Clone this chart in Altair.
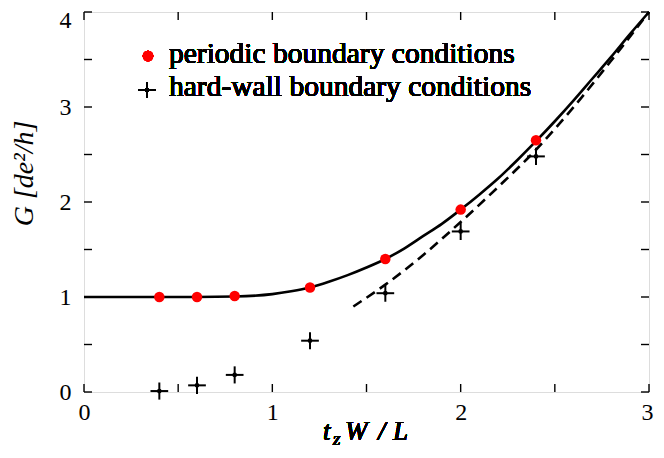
import altair as alt
import pandas as pd

# ---- data ----
periodic_x = [0.4, 0.6, 0.8, 1.2, 1.6, 2.0, 2.4]
periodic_g = [1.00, 1.00, 1.01, 1.10, 1.40, 1.92, 2.65]

hard_x = [0.4, 0.6, 0.8, 1.2, 1.6, 2.0, 2.4]
hard_g = [0.01, 0.07, 0.18, 0.54, 1.04, 1.69, 2.48]
hard_xerr = [0.047, 0.047, 0.047, 0.047, 0.047, 0.047, 0.047]
hard_gerr = [0.09, 0.09, 0.09, 0.09, 0.09, 0.09, 0.09]

solid_x = [0, 0.2, 0.4, 0.6, 0.8, 1.0, 1.1, 1.2, 1.3, 1.4, 1.5, 1.6, 1.7, 1.8,
           1.9, 2.0, 2.1, 2.2, 2.3, 2.4, 2.5, 2.6, 2.7, 2.8, 2.9, 3.0]
solid_g = [1.0, 1.0, 1.0, 1.0, 1.005, 1.03, 1.06, 1.10, 1.16, 1.23, 1.31, 1.40,
           1.51, 1.64, 1.77, 1.92, 2.08, 2.25, 2.44, 2.64, 2.85, 3.07, 3.30,
           3.53, 3.77, 4.0]

dashed_x = [1.43, 1.6, 1.8, 2.0, 2.2, 2.4, 2.6, 2.8, 3.0]
dashed_g = [0.90, 1.13, 1.44, 1.79, 2.16, 2.55, 3.00, 3.49, 4.0]

x_ticks = [0, 0.5, 1, 1.5, 2, 2.5, 3]
y_ticks = [0, 0.5, 1, 1.5, 2, 2.5, 3, 3.5, 4]
x_labels = [0, 1, 2, 3]
y_labels = [0, 1, 2, 3, 4]

legend_labels = ["periodic boundary conditions", "hard-wall boundary conditions"]
x_title_parts = ["t", "z", "W", "/", "L"]

W, H = 565, 380
FONT = "Liberation Serif"

xs = alt.Scale(domain=[0, 3], nice=False, zero=False)
ys = alt.Scale(domain=[0, 4], nice=False, zero=False)


def X(field, **kw):
    return alt.X(field, type="quantitative", scale=xs, **kw)


def Y(field, **kw):
    return alt.Y(field, type="quantitative", scale=ys, **kw)


periodic = pd.DataFrame({"x": periodic_x, "g": periodic_g})
hard = pd.DataFrame({"x": hard_x, "g": hard_g, "xerr": hard_xerr, "gerr": hard_gerr})
hard["x0"] = hard["x"] - hard["xerr"]
hard["x1"] = hard["x"] + hard["xerr"]
hard["g0"] = hard["g"] - hard["gerr"]
hard["g1"] = hard["g"] + hard["gerr"]
solid = pd.DataFrame({"x": solid_x, "g": solid_g})
dashed = pd.DataFrame({"x": dashed_x, "g": dashed_g})
xt = pd.DataFrame({"v": x_ticks})
yt = pd.DataFrame({"v": y_ticks})

# axes layer (labels only)
axes = alt.Chart(solid).mark_line(opacity=0).encode(
    x=X("x", axis=alt.Axis(values=x_labels, format="d", ticks=False, domain=False,
                           grid=False, labelFont=FONT, labelFontSize=24,
                           labelColor="black", labelPadding=8, title=None,
                           labelOffset={"condition": {"test": "datum.value == 3",
                                                      "value": -2},
                                        "value": 0},
                           labelFlush=False)),
    y=Y("g", axis=alt.Axis(values=y_labels, format="d", ticks=False, domain=False,
                           grid=False, labelFont=FONT, labelFontSize=24,
                           labelColor="black", labelPadding=13,
                           labelOffset={"condition": {"test": "datum.value == 4",
                                                      "value": 8},
                                        "value": 0},
                           title="G    [de²/h]", titleFont=FONT, titleFontSize=28,
                           titleFontStyle="italic", titleFontWeight="normal",
                           titleColor="black", titleAngle=270, titleX=-52,
                           titleY=161, titleAlign="center",
                           titleBaseline="alphabetic", labelFlush=False)),
)

solid_line = alt.Chart(solid).mark_line(color="black", strokeWidth=2.6,
                                        interpolate="monotone").encode(
    x=X("x"), y=Y("g"))
dashed_line = alt.Chart(dashed).mark_line(color="black", strokeWidth=2.6,
                                          strokeDash=[10, 6],
                                          interpolate="monotone").encode(
    x=X("x"), y=Y("g"))

hbar = alt.Chart(hard).mark_rule(color="black", strokeWidth=2).encode(
    x=X("x0"), x2="x1", y=Y("g"))
vbar = alt.Chart(hard).mark_rule(color="black", strokeWidth=2).encode(
    x=X("x"), y=Y("g0"), y2="g1")
hdot = alt.Chart(hard).mark_point(filled=True, color="black", size=22,
                                  opacity=1).encode(x=X("x"), y=Y("g"))
pdots = alt.Chart(periodic).mark_point(filled=True, color="#ff0000", size=110,
                                       opacity=1).encode(x=X("x"), y=Y("g"))

tick_style = dict(color="black", strokeWidth=1.4)
tb = alt.Chart(xt).mark_rule(**tick_style).encode(
    x=X("v"), y=alt.value(H), y2=alt.value(H - 8))
tt = alt.Chart(xt).mark_rule(**tick_style).encode(
    x=X("v"), y=alt.value(0), y2=alt.value(8))
tl = alt.Chart(yt).mark_rule(**tick_style).encode(
    y=Y("v"), x=alt.value(0), x2=alt.value(8))
tr = alt.Chart(yt).mark_rule(**tick_style).encode(
    y=Y("v"), x=alt.value(W), x2=alt.value(W - 8))


# x-axis title: t_z W/L, built from pieces
def title_piece(txt, px, py, size):
    return alt.Chart(solid).mark_text(text=txt, font=FONT, fontSize=size,
                                      fontStyle="italic", align="left",
                                      baseline="alphabetic", color="black").encode(
        x=alt.value(px), y=alt.value(py))


xt_parts = [
    title_piece(x_title_parts[0], 239, 428, 27),
    title_piece(x_title_parts[1], 249, 433, 19),
    title_piece(x_title_parts[2], 261, 428, 27),
    title_piece(x_title_parts[3], 294, 428, 27),
    title_piece(x_title_parts[4], 309, 428, 27),
]

# legend
leg_dot = alt.Chart(solid).mark_point(filled=True, color="#ff0000", size=110,
                                      opacity=1).encode(
    x=alt.value(64), y=alt.value(44))
leg_cross = alt.Chart(solid).mark_point(shape="M-1,0L1,0M0,-0.85L0,0.85", filled=False,
                                        color="black", strokeWidth=2, size=324,
                                        opacity=1).encode(
    x=alt.value(63), y=alt.value(78))
leg_cdot = alt.Chart(solid).mark_point(filled=True, color="black", size=22,
                                       opacity=1).encode(
    x=alt.value(63), y=alt.value(78))
leg_t1 = alt.Chart(solid).mark_text(text=legend_labels[0], font=FONT, fontSize=29.5,
                                    align="left", baseline="alphabetic",
                                    color="black").encode(
    x=alt.value(85), y=alt.value(51))
leg_t2 = alt.Chart(solid).mark_text(text=legend_labels[1], font=FONT, fontSize=29.5,
                                    align="left", baseline="alphabetic",
                                    color="black").encode(
    x=alt.value(85), y=alt.value(84))

chart = alt.layer(
    axes, tb, tt, tl, tr, solid_line, dashed_line, hbar, vbar, hdot, pdots,
    *xt_parts, leg_dot, leg_cross, leg_cdot, leg_t1, leg_t2,
).properties(
    width=W, height=H,
    autosize=alt.AutoSizeParams(type="none"),
    padding={"left": 76, "top": 4, "right": 7, "bottom": 58},
).configure_view(
    stroke="black", strokeWidth=2,
).configure(background="white")

chart.save("out.html", embed_options={"renderer": "svg", "actions": False})
